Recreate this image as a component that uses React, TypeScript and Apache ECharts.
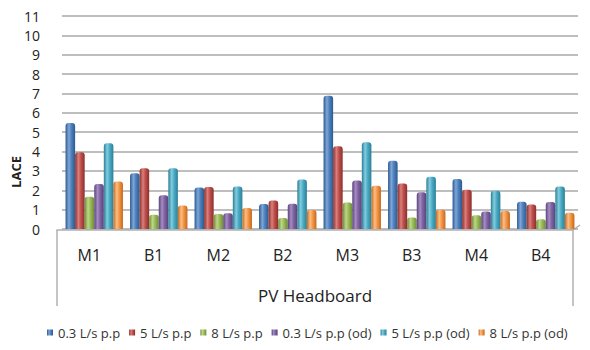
import React, { useEffect, useRef } from "react";
import * as echarts from "echarts";

const categories = ["M1", "B1", "M2", "B2", "M3", "B3", "M4", "B4"];
const seriesNames = [
  "0.3 L/s p.p",
  "5 L/s p.p",
  "8 L/s p.p",
  "0.3 L/s p.p (od)",
  "5 L/s p.p (od)",
  "8 L/s p.p (od)",
];
const s03 = [5.47, 2.88, 2.14, 1.29, 6.88, 3.53, 2.58, 1.41];
const s5 = [3.97, 3.14, 2.17, 1.47, 4.27, 2.35, 2.03, 1.26];
const s8 = [1.67, 0.74, 0.78, 0.57, 1.37, 0.6, 0.71, 0.5];
const s03od = [2.33, 1.74, 0.81, 1.31, 2.5, 1.9, 0.9, 1.4];
const s5od = [4.43, 3.14, 2.19, 2.55, 4.48, 2.7, 1.97, 2.19];
const s8od = [2.45, 1.22, 1.08, 0.98, 2.24, 1.0, 0.93, 0.84];
const yTicks = [0, 1, 2, 3, 4, 5, 6, 7, 8, 9, 10, 11];

const colors = ["#4F81BD", "#C0504D", "#9BBB59", "#8064A2", "#4BACC6", "#F79646"];
const dark = ["#2C5A8F", "#8C2F2C", "#6E8C35", "#59437A", "#2B7F96", "#C26A1E"];
const light = ["#7FA6D8", "#DA7F7C", "#BCD68A", "#A58DC3", "#84CCDD", "#FBBE86"];

export default function App() {
  const ref = useRef<HTMLDivElement>(null);
  useEffect(() => {
    if (!ref.current) return;
    const chart = echarts.init(ref.current, undefined, { renderer: "svg" });
    const all = [s03, s5, s8, s03od, s5od, s8od];
    const font = "'Open Sans', sans-serif";
    chart.setOption({
      animation: false,
      textStyle: { fontFamily: font },
      grid: [
        { left: 62, right: 12, top: 16, bottom: 121 },
        { left: 57, right: 17, top: 16, bottom: 120 },
      ],
      legend: {
        top: 321,
        left: 42,
        itemWidth: 6,
        itemHeight: 6,
        itemGap: 9,
        icon: "rect",
        textStyle: { fontSize: 13, color: "#333", fontFamily: font },
        data: seriesNames,
      },
      xAxis: [
        {
          type: "category",
          gridIndex: 0,
          data: categories,
          axisLine: { show: false },
          axisTick: { show: false },
          axisLabel: { show: false },
        },
        {
          type: "category",
          gridIndex: 1,
          data: categories,
          axisLine: { show: true, lineStyle: { color: "#b0b0b0", width: 1.5 } },
          axisTick: { show: false },
          axisLabel: { fontSize: 16, color: "#222", margin: 17, fontFamily: font },
          name: "PV Headboard",
          nameLocation: "middle",
          nameGap: 57,
          nameTextStyle: { fontSize: 17, color: "#222", fontFamily: font },
        },
      ],
      yAxis: [
        {
          type: "value",
          gridIndex: 0,
          min: 0,
          max: yTicks[yTicks.length - 1],
          interval: 1,
          axisLine: { show: false },
          axisTick: { show: false },
          axisLabel: { fontSize: 14, color: "#222", margin: 22, fontFamily: font },
          splitLine: { lineStyle: { color: "#a8a8a8", width: 1.5 } },
        },
        {
          type: "value",
          gridIndex: 1,
          min: 0,
          max: 11,
          show: false,
        },
      ],
      series: all.map((d, i) => ({
        name: seriesNames[i],
        type: "bar",
        xAxisIndex: 0,
        yAxisIndex: 0,
        data: d,
        barGap: "0%",
        barCategoryGap: "11%",
        itemStyle: {
          borderRadius: [3, 3, 0, 0],
          color: new echarts.graphic.LinearGradient(0, 0, 1, 0, [
            { offset: 0, color: dark[i] },
            { offset: 0.35, color: light[i] },
            { offset: 0.6, color: colors[i] },
            { offset: 1, color: dark[i] },
          ]),
        },
      })),
      graphic: [
        {
          type: "text",
          x: 16,
          y: 172,
          rotation: Math.PI / 2,
          style: {
            text: "LACE",
            fontSize: 13,
            fontWeight: "bold",
            fill: "#222",
            fontFamily: font,
            align: "center",
            verticalAlign: "middle",
          },
        },
        { type: "line", shape: { x1: 57, y1: 230, x2: 57, y2: 306 }, style: { stroke: "#b0b0b0", lineWidth: 1.5 } },
        { type: "line", shape: { x1: 573, y1: 230, x2: 573, y2: 306 }, style: { stroke: "#b0b0b0", lineWidth: 1.5 } },
        { type: "line", shape: { x1: 573, y1: 230, x2: 580, y2: 225 }, style: { stroke: "#b0b0b0", lineWidth: 1.5 } },
      ],
    });
    return () => chart.dispose();
  }, []);
  return (
    <div
      ref={ref}
      style={{ position: "absolute", left: 0, top: 0, width: 590, height: 350 }}
    />
  );
}
